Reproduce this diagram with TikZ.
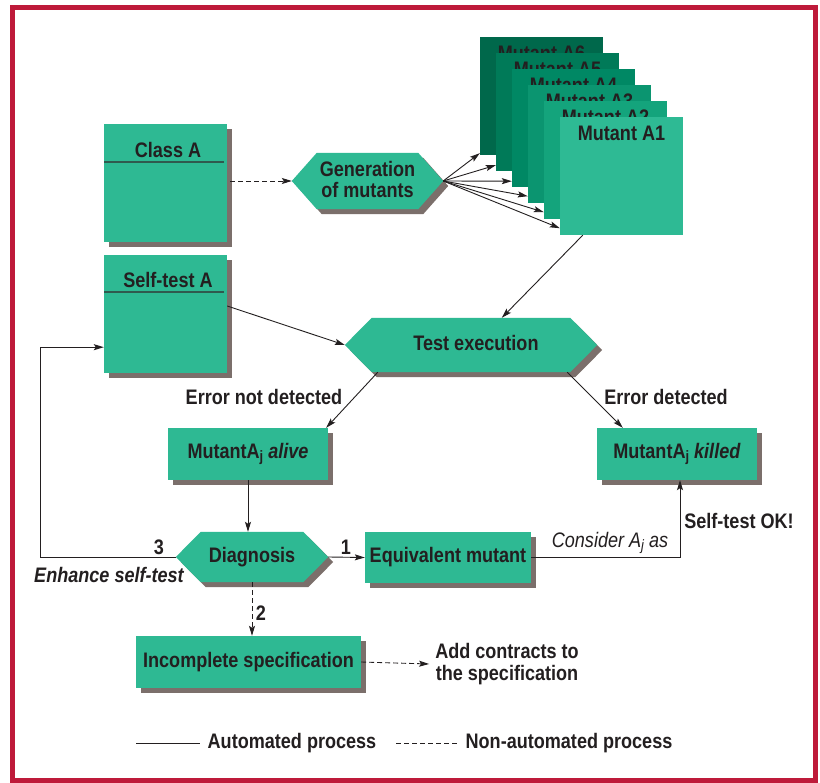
\documentclass[tikz,border=0pt]{standalone}
\usepackage{fontspec}
\setmainfont{Liberation Sans}[FakeStretch=0.86]
\usetikzlibrary{arrows.meta,shadows,calc}
\definecolor{boxgreen}{HTML}{2EB993}
\definecolor{shadowc}{HTML}{7B6F6B}
\definecolor{framered}{HTML}{BE1A3A}
\definecolor{ink}{HTML}{231F20}
\definecolor{divc}{HTML}{2F5A4E}
\definecolor{mcA}{HTML}{2EBA94}
\definecolor{mcB}{HTML}{14A47C}
\definecolor{mcC}{HTML}{0B9570}
\definecolor{mcD}{HTML}{008864}
\definecolor{mcE}{HTML}{007A58}
\definecolor{mcF}{HTML}{00684B}
\pgfdeclarelayer{bg}
\pgfsetlayers{bg,main}
\newcommand\hexshape[3]{%
  \fill[#3] ([shift={(5,5)}]#1.west) -- ([shift={(#2+5,5)}]#1.north west) -- ([shift={(-#2+5,5)}]#1.north east) -- ([shift={(5,5)}]#1.east) -- ([shift={(-#2+5,5)}]#1.south east) -- ([shift={(#2+5,5)}]#1.south west) -- cycle;
  \fill[boxgreen] (#1.west) -- ([shift={(#2,0)}]#1.north west) -- ([shift={(-#2,0)}]#1.north east) -- (#1.east) -- ([shift={(-#2,0)}]#1.south east) -- ([shift={(#2,0)}]#1.south west) -- cycle;}
\newcommand\subj{\raisebox{-0.35ex}{\fontsize{15}{15}\selectfont j}}
\begin{document}
\begin{tikzpicture}[x=1pt,y=-1pt,
  font=\fontsize{21}{23}\selectfont\bfseries, text=ink,
  box/.style={rectangle, fill=boxgreen, inner sep=0pt,
    drop shadow={shadow xshift=5pt, shadow yshift=-5pt, opacity=1, fill=shadowc}},
  mut/.style={rectangle, inner sep=0pt, minimum width=123, minimum height=118},
  hexn/.style={rectangle, inner sep=0pt},
  lbl/.style={inner sep=1pt},
  conn/.style={draw=ink, line width=0.9pt, -{Stealth[length=10pt,width=6pt,inset=2pt]}},
  plain/.style={draw=ink, line width=0.9pt},
  dashedconn/.style={conn, dash pattern=on 5pt off 3pt},
  divline/.style={draw=divc, line width=1.2pt}]
\useasboundingbox (0,0) rectangle (820,783);
\begin{pgfonlayer}{bg}
\fill[white] (0,0) rectangle (820,783);
\end{pgfonlayer}
\draw[framered, line width=5pt] (12.5,7.5) rectangle (815.5,780.5);

% class boxes
\node[box, minimum width=123, minimum height=118] (classA) at (165.5,183) {};
\node[lbl] (classAt) at (168,150) {Class A};
\draw[divline] (104,162) -- (224,162);
\node[box, minimum width=123, minimum height=118] (st) at (165.5,314) {};
\node[lbl] (stt) at (168,280) {Self-test A};
\draw[divline] (104,292) -- (224,292);

% mutant stack
\node[mut, fill=mcF] (mF) at (541.5,96) {};
\node[lbl] (lF) at (541.5,53) {Mutant A6};
\node[mut, fill=mcE] (mE) at (557.5,112) {};
\node[lbl] (lE) at (557.5,69) {Mutant A5};
\node[mut, fill=mcD] (mD) at (573.5,128) {};
\node[lbl] (lD) at (573.5,85) {Mutant A4};
\node[mut, fill=mcC] (mC) at (589.5,144) {};
\node[lbl] (lC) at (589.5,101) {Mutant A3};
\node[mut, fill=mcB] (mB) at (605.5,160) {};
\node[lbl] (lB) at (605.5,117) {Mutant A2};
\node[mut, fill=mcA] (mA) at (621.5,176) {};
\node[lbl] (lA) at (621.5,133) {Mutant A1};

% hexagons
\node[hexn, minimum width=151, minimum height=56] (gen) at (367.5,181) {};
\node[lbl, align=center, font=\fontsize{21}{21}\selectfont\bfseries] (gent) at (367.5,179) {Generation\\of mutants};
\node[hexn, minimum width=252, minimum height=54] (test) at (471,345) {};
\node[lbl] (testt) at (476,343) {Test execution};
\node[hexn, minimum width=152, minimum height=50] (diag) at (252,557) {Diagnosis};
\begin{pgfonlayer}{bg}
\hexshape{gen}{25}{shadowc}
\hexshape{test}{27}{shadowc}
\hexshape{diag}{25}{shadowc}
\end{pgfonlayer}

% result boxes
\node[box, minimum width=160, minimum height=52] (alive) at (248,454) {MutantA\subj\ \textit{alive}};
\node[box, minimum width=160, minimum height=52] (killed) at (677,454) {MutantA\subj\ \textit{killed}};
\node[box, minimum width=166, minimum height=51] (equiv) at (448,557.5) {Equivalent mutant};
\node[box, minimum width=225, minimum height=52] (inc) at (248.5,662) {Incomplete specification};
\node[lbl, align=center, inner sep=6pt, font=\fontsize{21}{22}\selectfont\bfseries] (add) at (507,664) {Add contracts to\\the specification};

% labels
\node[lbl] (lend) at (264,397) {Error not detected};
\node[lbl] (led) at (666,397) {Error detected};
\node[lbl] (l3) at (159,547) {3};
\node[lbl] (l1) at (346,547) {1};
\node[lbl] (l2) at (261,613) {2};
\node[lbl, font=\fontsize{21}{23}\selectfont\bfseries\itshape] (lenh) at (109,575) {Enhance self-test};
\node[lbl, font=\fontsize{21}{23}\selectfont\mdseries\itshape] (lcons) at (610,543) {Consider A\subj\ as};
\node[lbl] (lok) at (739,521) {Self-test OK!};

% connectors
\draw[dashedconn] ([xshift=3]classA.east |- gen.west) -- (gen.west);
\draw[conn] (gen.east) -- ([shift={(0,-2)}]mF.south west);
\draw[conn] (gen.east) -- ([shift={(0,-6)}]mE.south west);
\draw[conn] (gen.east) -- ([shift={(0,-6)}]mD.south west);
\draw[conn] (gen.east) -- ([shift={(0,-7)}]mC.south west);
\draw[conn] (gen.east) -- ([shift={(0,-7)}]mB.south west);
\draw[conn] (gen.east) -- ([shift={(0,-7)}]mA.south west);
\draw[conn] ([shift={(23,0)}]mA.south west) -- ([shift={(157,0)}]test.north west);
\draw[conn] ([shift={(0,-8)}]st.east) -- (test.west);
\draw[conn] ([shift={(33,0)}]test.south west) -- ([shift={(-2,0)}]alive.north east);
\draw[conn] ([shift={(-30,0)}]test.south east) -- ([shift={(26,0)}]killed.north west);
\draw[conn] (alive.south) -- (alive.south |- diag.north);
\draw[conn] (diag.east) -- (equiv.west);
\draw[conn] (equiv.east) -| ([shift={(3,0)}]killed.south);
\coordinate (lc) at (40,557);
\draw[conn] (diag.west) -- (lc) |- ([shift={(0,-26)}]st.south west);
\draw[dashedconn] (diag.south) -- (diag.south |- inc.north);
\draw[dashedconn] (inc.east) -- (add.west);

% legend
\coordinate (la1) at (136,743);
\coordinate (la2) at (200,743);
\coordinate (lb1) at (396,743);
\coordinate (lb2) at (458,743);
\draw[plain] (la1) -- (la2);
\draw[plain, dash pattern=on 5pt off 3pt] (lb1) -- (lb2);
\node[lbl] (lauto) at (292,743) {Automated process};
\node[lbl] (lnon) at (569,743) {Non-automated process};
\end{tikzpicture}
\end{document}
